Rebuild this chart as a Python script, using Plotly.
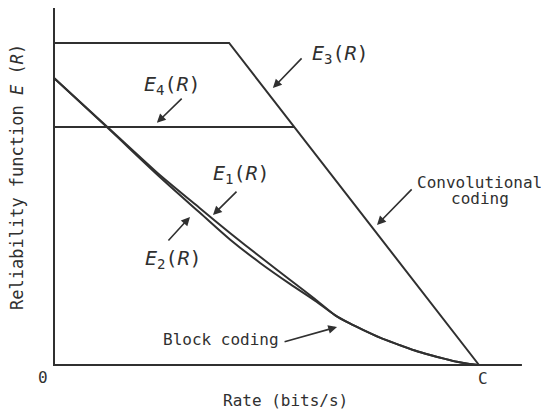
import numpy as np
import plotly.graph_objects as go

# Rate axis is normalised so that channel capacity C = 1.
C = 1.0

# Block coding exponents: two branches that separate at low/medium rate ...
rate_upper = [0.0, 0.125, 0.249, 0.344, 0.414, 0.485, 0.555, 0.614, 0.661]
e1_upper = [0.891, 0.740, 0.590, 0.486, 0.410, 0.336, 0.265, 0.205, 0.155]
e2_upper = [0.891, 0.738, 0.584, 0.472, 0.390, 0.317, 0.252, 0.200, 0.155]
# ... and share a common tail that reaches zero at capacity.
rate_tail = [0.661, 0.696, 0.727, 0.767, 0.807, 0.849, 0.885, 0.920, 0.948, 0.974, 1.0]
e_tail = [0.155, 0.129, 0.109, 0.085, 0.065, 0.045, 0.031, 0.019, 0.010, 0.004, 0.0]

# Convolutional coding exponent E3: flat, then linear down to C.
e3_level = 1.0
e3_knee = 0.412
# E4: a constant level, cut off where it meets E3.
e4_level = 0.739

INK = "#303030"
FONT = "DejaVu Sans Mono"

r_e1 = rate_upper + rate_tail[1:]
v_e1 = e1_upper + e_tail[1:]
r_e2 = rate_upper + rate_tail[1:]
v_e2 = e2_upper + e_tail[1:]

r_e3 = [0.0, e3_knee, C]
v_e3 = [e3_level, e3_level, 0.0]

r4_end = e3_knee + (1 - e4_level / e3_level) * (C - e3_knee)
r_e4 = [0.0, r4_end]
v_e4 = [e4_level, e4_level]

fig = go.Figure()

# axes
fig.add_trace(go.Scatter(x=[0, 0, 1.101], y=[1.109, 0, 0], mode="lines",
                         line=dict(color=INK, width=2), hoverinfo="skip"))

for rx, ry, shape, sm in [(r_e1, v_e1, "spline", 0.5), (r_e2, v_e2, "spline", 0.9),
                          (r_e3, v_e3, "linear", 0), (r_e4, v_e4, "linear", 0)]:
    line = dict(color=INK, width=2, shape=shape)
    if shape == "spline":
        line["smoothing"] = sm
    fig.add_trace(go.Scatter(x=rx, y=ry, mode="lines", line=line, hoverinfo="skip"))

# pointer arrows: (tip_x, tip_y, tail_x, tail_y)
arrows = [
    (0.515, 0.860, 0.586, 0.957),   # E3
    (0.242, 0.752, 0.304, 0.832),   # E4
    (0.374, 0.466, 0.433, 0.543),   # E1
    (0.320, 0.460, 0.266, 0.382),   # E2
    (0.666, 0.118, 0.539, 0.071),   # block coding
    (0.760, 0.435, 0.845, 0.550),   # convolutional coding
]
annotations = []
for tx, ty, sx, sy in arrows:
    annotations.append(dict(x=tx, y=ty, ax=sx, ay=sy, xref="x", yref="y",
                            axref="x", ayref="y", text="", showarrow=True,
                            arrowhead=2, arrowsize=1.1, arrowwidth=1.6,
                            arrowcolor=INK, standoff=0, startstandoff=0))

labels = [
    (0.675, 0.966, "<i>E</i><sub>3</sub>(<i>R</i>)", 20),
    (0.278, 0.870, "<i>E</i><sub>4</sub>(<i>R</i>)", 20),
    (0.440, 0.593, "<i>E</i><sub>1</sub>(<i>R</i>)", 20),
    (0.282, 0.329, "<i>E</i><sub>2</sub>(<i>R</i>)", 20),
    (0.393, 0.078, "Block coding", 16),
    (1.002, 0.567, "Convolutional", 16),
    (1.002, 0.516, "coding", 16),
    (-0.026, -0.040, "0", 16),
    (1.009, -0.043, "C", 16),
    (0.544, -0.109, "Rate (bits/s)", 16),
]
for lx, ly, txt, size in labels:
    annotations.append(dict(x=lx, y=ly, xref="x", yref="y", text=txt,
                            showarrow=False, font=dict(family=FONT, size=size, color=INK),
                            xanchor="center", yanchor="middle"))

annotations.append(dict(x=-0.087, y=0.584, xref="x", yref="y",
                        text="Reliability function <i>E</i> (<i>R</i>)",
                        showarrow=False, textangle=-90,
                        font=dict(family=FONT, size=17, color=INK),
                        xanchor="center", yanchor="middle"))

fig.update_layout(
    width=541, height=414,
    margin=dict(l=0, r=0, t=0, b=0),
    paper_bgcolor="white", plot_bgcolor="white",
    showlegend=False,
    xaxis=dict(range=[-54 / 425, 487 / 425], visible=False),
    yaxis=dict(range=[-49 / 322, 365 / 322], visible=False),
    annotations=annotations,
)

fig.write_html("out.html")
